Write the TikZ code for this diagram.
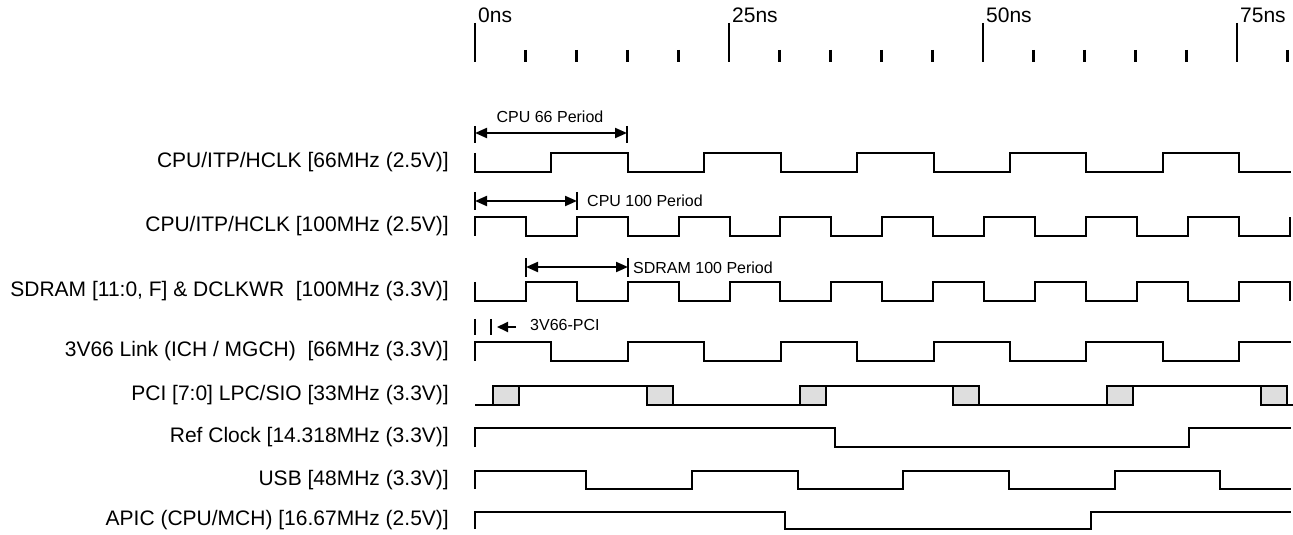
\documentclass[tikz,border=0pt]{standalone}
\usepackage{fontspec}
\setmainfont{Liberation Sans}
\usetikzlibrary{arrows.meta}
\definecolor{boxgray}{RGB}{222,222,222}
\begin{document}
\begin{tikzpicture}[x=1bp,y=-1bp,
  wave/.style={line width=2.2bp, line join=miter},
  lbl/.style={anchor=east, inner sep=0pt, font=\fontsize{21bp}{25bp}\selectfont},
  ann/.style={anchor=base west, inner sep=0pt, font=\fontsize{16bp}{19bp}\selectfont},
  tlbl/.style={anchor=base west, inner sep=0pt, font=\fontsize{21bp}{25bp}\selectfont},
  dimarrow/.style={line width=2bp, {Triangle[length=12bp,width=10bp]}-{Triangle[length=12bp,width=10bp]}},
  larrow/.style={line width=2bp, -{Triangle[length=11bp,width=10bp]}},
  barline/.style={line width=2.5bp},
  majtick/.style={line width=2.2bp},
  mintick/.style={line width=2.8bp},
  pcibox/.style={draw, fill=boxgray, line width=2.2bp}
]
\useasboundingbox (0,0) rectangle (1293,535);

% time ruler
\foreach \t/\lab [count=\i] in {0/0ns,25/25ns,50/50ns,75/75ns}{
  \draw[majtick] (475+10.16*\t,23) -- (475+10.16*\t,62);
  \node[tlbl] (tl\i) at (478+10.16*\t,23) {\lab};
}
\foreach \t in {5,10,15,20,30,35,40,45,55,60,65,70,80}{
  \draw[mintick] (475+10.16*\t,50) -- (475+10.16*\t,62);
}

% row labels
\node[lbl] (l1) at (449,162.5) {CPU/ITP/HCLK [66MHz (2.5V)]};
\node[lbl] (l2) at (449,226.5) {CPU/ITP/HCLK [100MHz (2.5V)]};
\node[lbl] (l3) at (449,291.5) {SDRAM [11:0, F] \& DCLKWR\ \ [100MHz (3.3V)]};
\node[lbl] (l4) at (449,351.5) {3V66 Link (ICH / MGCH)\ \ [66MHz (3.3V)]};
\node[lbl] (l5) at (449,395.5) {PCI [7:0] LPC/SIO [33MHz (3.3V)]};
\node[lbl] (l6) at (449,437.5) {Ref Clock [14.318MHz (3.3V)]};
\node[lbl] (l7) at (449,480) {USB [48MHz (3.3V)]};
\node[lbl] (l8) at (449,520.5) {APIC (CPU/MCH) [16.67MHz (2.5V)]};

% CPU 66
\draw[wave] (475,153) -- (475,172) -| (551,153) -| (628,172) -| (704,153) -| (781,172) -| (857,153) -| (934,172) -| (1010,153) -| (1086,172) -| (1163,153) -| (1239,172) -- (1291,172);
% CPU 100
\draw[wave] (475,236) -- (475,217) -| (526,236) -| (577,217) -| (628,236) -| (679,217) -| (730,236) -| (780,217) -| (831,236) -| (882,217) -| (933,236) -| (984,217) -| (1035,236) -| (1086,217) -| (1137,236) -| (1188,217) -| (1239,236) -| (1290,217);
% SDRAM
\draw[wave] (475,282) -- (475,301) -| (526,282) -| (577,301) -| (628,282) -| (679,301) -| (730,282) -| (780,301) -| (831,282) -| (882,301) -| (933,282) -| (984,301) -| (1035,282) -| (1086,301) -| (1137,282) -| (1188,301) -| (1239,282) -| (1290,301);
% 3V66
\draw[wave] (475,361) -- (475,342) -| (551,361) -| (628,342) -| (704,361) -| (781,342) -| (857,361) -| (934,342) -| (1010,361) -| (1086,342) -| (1163,361) -| (1239,342) -- (1291,342);
% PCI
\draw[wave] (475,405) -- (493,405);
\draw[wave] (519,386) -- (647,386);
\draw[wave] (673,405) -- (800,405);
\draw[wave] (826,386) -- (953,386);
\draw[wave] (979,405) -- (1107,405);
\draw[wave] (1133,386) -- (1261,386);
\draw[wave] (1287,405) -- (1293,405);
\foreach \bx in {493,647,800,953,1107,1261}{
  \draw[pcibox] (\bx,386) rectangle (\bx+26,405);
}
% Ref clock
\draw[wave] (475,447) -- (475,428) -| (835,447) -| (1189,428) -- (1291,428);
% USB
\draw[wave] (475,489) -- (475,471) -| (586,489) -| (692,471) -| (798,489) -| (903,471) -| (1009,489) -| (1115,471) -| (1220,489) -- (1291,489);
% APIC
\draw[wave] (475,529) -- (475,512) -| (785,529) -| (1091,512) -- (1291,512);

% annotations
\coordinate (c66a) at (475,133);
\coordinate (c66b) at (627,133);
\draw[barline] (475,126) -- (475,143);
\draw[barline] (627,126) -- (627,143);
\draw[dimarrow] (c66a) -- (c66b);
\node[anchor=base, inner sep=0pt, font=\fontsize{16bp}{19bp}\selectfont] (t66) at (550,123) {CPU 66 Period};

\coordinate (c100a) at (475,201);
\coordinate (c100b) at (577,201);
\draw[barline] (475,192) -- (475,210);
\draw[barline] (577,192) -- (577,210);
\draw[dimarrow] (c100a) -- (c100b);
\node[ann] (t100) at (587,207) {CPU 100 Period};

\coordinate (csda) at (526,267);
\coordinate (csdb) at (628,267);
\draw[barline] (526,258) -- (526,277);
\draw[barline] (628,258) -- (628,277);
\draw[dimarrow] (csda) -- (csdb);
\node[ann] (tsd) at (633,274) {SDRAM 100 Period};

\coordinate (cpa) at (516,327);
\coordinate (cpb) at (497,327);
\draw[barline] (475,319) -- (475,335);
\draw[barline] (491,319) -- (491,335);
\draw[larrow] (cpa) -- (cpb);
\node[ann] (tpci) at (530,331) {3V66-PCI};
\end{tikzpicture}
\end{document}
